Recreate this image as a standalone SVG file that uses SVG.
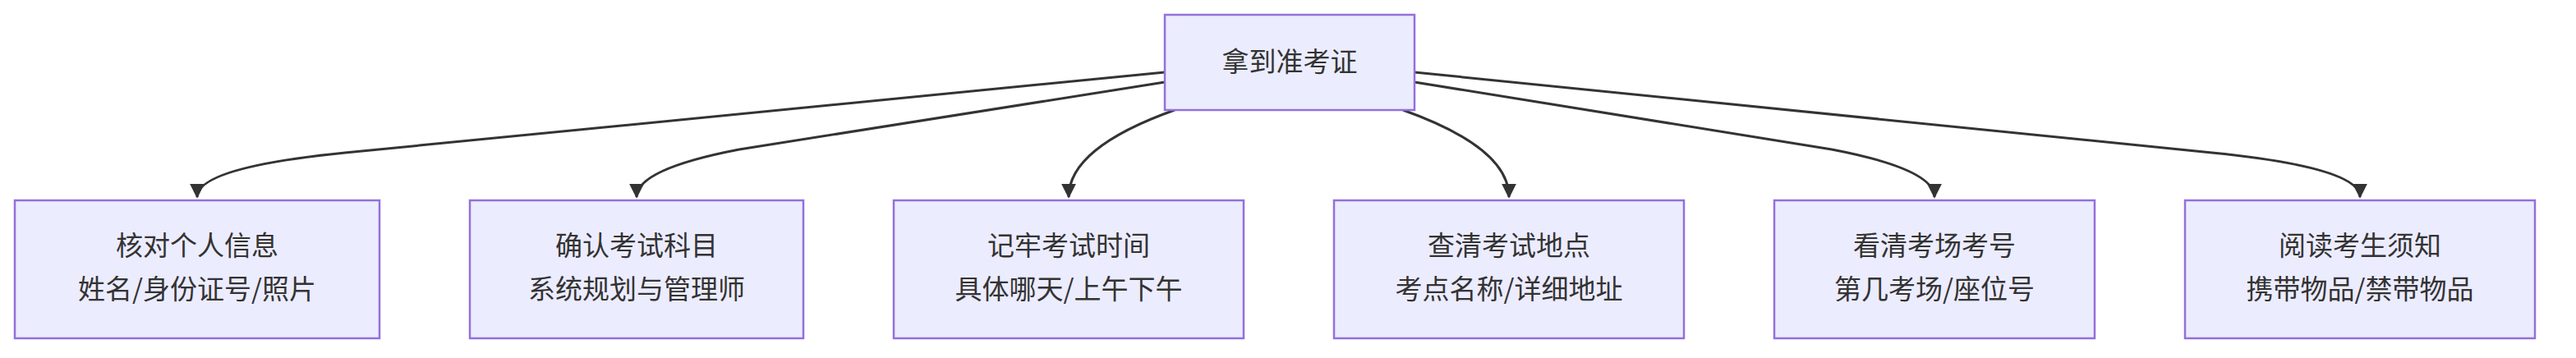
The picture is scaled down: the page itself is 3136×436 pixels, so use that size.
<svg xmlns="http://www.w3.org/2000/svg" width="3136" height="436" viewBox="0 0 3136 436">
<style>
.n rect{fill:#ECECFF;stroke:#9370DB;stroke-width:2.5}
.n text{font-family:"Noto Sans CJK SC","Liberation Sans",sans-serif;font-size:33px;fill:#333;text-anchor:middle}
.e path{fill:none;stroke:#333;stroke-width:3;marker-end:url(#a)}
</style>
<defs><marker id="a" viewBox="0 0 10 10" refX="9" refY="5" markerWidth="6" markerHeight="6" markerUnits="strokeWidth" orient="auto"><path d="M0,0L10,5L0,10z" fill="#333"/></marker></defs>
<rect width="3136" height="436" fill="#fff"/>
<g class="e">
<path d="M1418,88 L420,186 Q240,204 240,240"/>
<path d="M1418,100 L900,182 Q775,206 775,240"/>
<path d="M1430,134 Q1301,180 1301,240"/>
<path d="M1708,134 Q1837,180 1837,240"/>
<path d="M1722,100 L2230,182 Q2355,206 2355,240"/>
<path d="M1722,88 L2693,186 Q2873,204 2873,240"/>
</g>
<g id="root" class="n"><rect x="1418" y="18" width="304" height="116"/><text x="1570" y="87">拿到准考证</text></g>
<g id="n1" class="n"><rect x="18" y="244" width="444" height="168"/><text x="240" y="311">核对个人信息</text><text x="240" y="364">姓名/身份证号/照片</text></g>
<g id="n2" class="n"><rect x="572" y="244" width="406" height="168"/><text x="775" y="311">确认考试科目</text><text x="775" y="364">系统规划与管理师</text></g>
<g id="n3" class="n"><rect x="1088" y="244" width="426" height="168"/><text x="1301" y="311">记牢考试时间</text><text x="1301" y="364">具体哪天/上午下午</text></g>
<g id="n4" class="n"><rect x="1624" y="244" width="426" height="168"/><text x="1837" y="311">查清考试地点</text><text x="1837" y="364">考点名称/详细地址</text></g>
<g id="n5" class="n"><rect x="2160" y="244" width="390" height="168"/><text x="2355" y="311">看清考场考号</text><text x="2355" y="364">第几考场/座位号</text></g>
<g id="n6" class="n"><rect x="2660" y="244" width="426" height="168"/><text x="2873" y="311">阅读考生须知</text><text x="2873" y="364">携带物品/禁带物品</text></g>
</svg>
